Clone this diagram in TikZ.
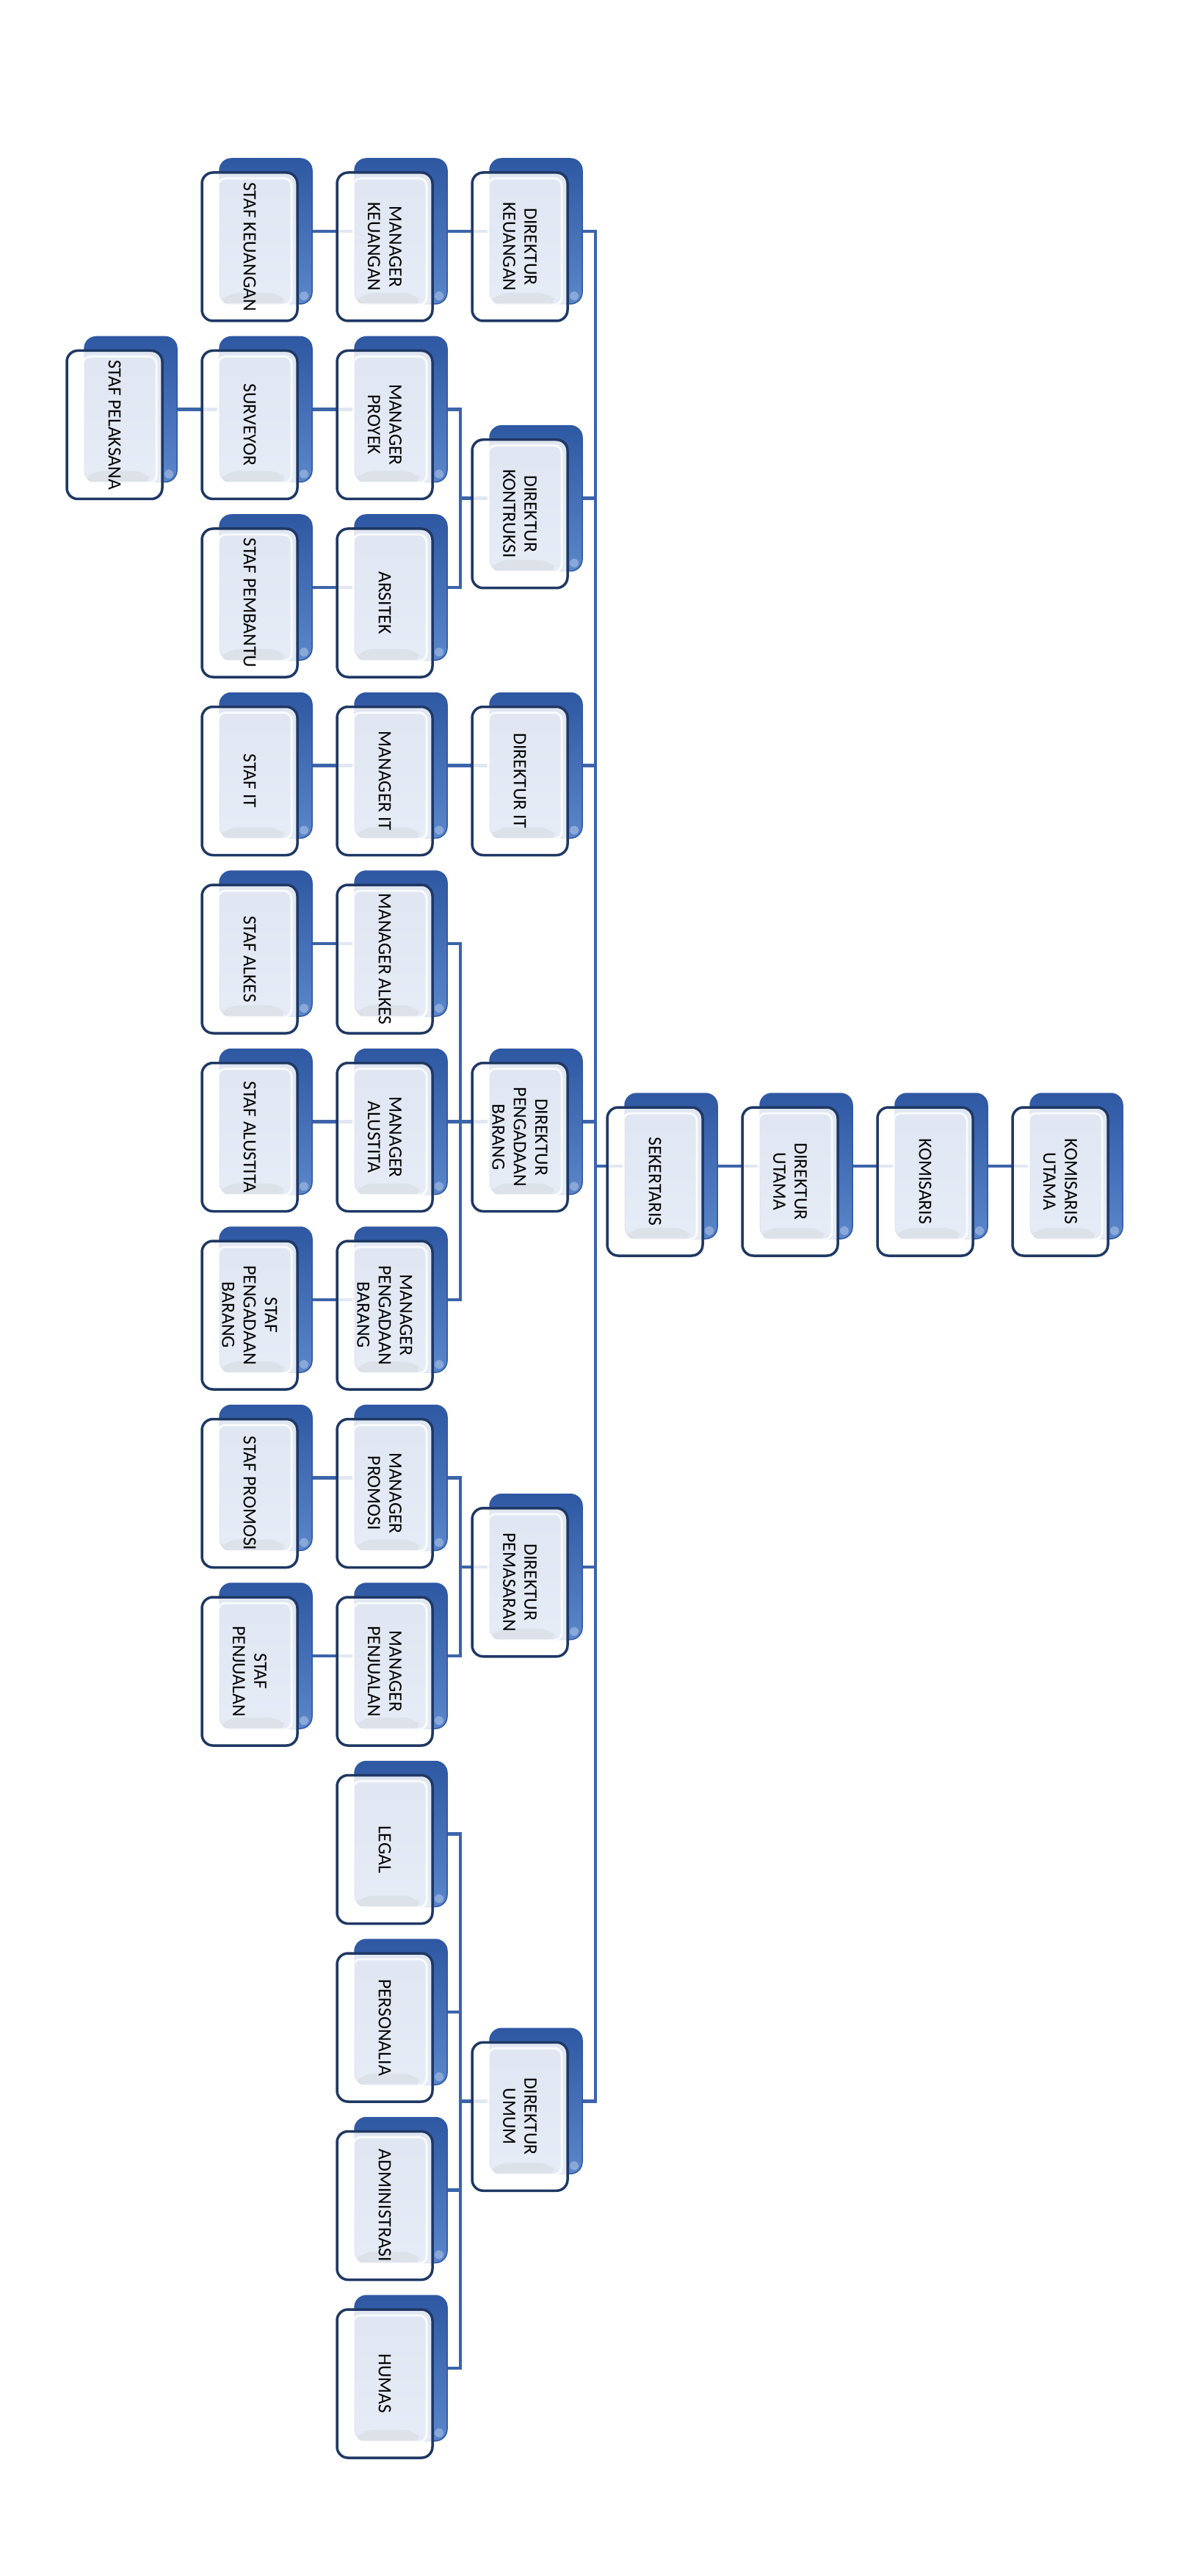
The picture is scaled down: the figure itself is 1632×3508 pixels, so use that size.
\documentclass[tikz,border=0pt]{standalone}
\usepackage{fontspec}
\setmainfont{Carlito}
\usetikzlibrary{backgrounds}

\definecolor{garisbiru}{HTML}{3C64A9}
\definecolor{tepi}{HTML}{1F3864}
\definecolor{biruatas}{HTML}{2F58A3}
\definecolor{birubawah}{HTML}{5A86CB}

\begin{document}
\begin{tikzpicture}[x=0.1mm, y=-0.1mm,
  belakang/.style={rectangle, rounded corners=1.6mm, minimum width=12.6mm,
    minimum height=19.8mm, inner sep=0pt, draw=biruatas, line width=0.15mm,
    top color=biruatas, bottom color=birubawah,
    path picture={\fill[white, opacity=.3]
      ([shift={(-1.1mm,1.1mm)}]path picture bounding box.south east) circle (0.6mm);}},
  depan/.style={rectangle, rounded corners=1.5mm, minimum width=13mm,
    minimum height=20.2mm, inner sep=0pt, draw=tepi, line width=0.35mm,
    fill=white, fill opacity=0.85,
    path picture={
      \fill[black!25, opacity=.22]
        ([shift={(2.2mm,2.2mm)}]path picture bounding box.south west)
        -- ([shift={(-1.2mm,2.2mm)}]path picture bounding box.south east)
        -- ([shift={(-2.4mm,3.8mm)}]path picture bounding box.south east)
        -- ([shift={(3.4mm,3.8mm)}]path picture bounding box.south west) -- cycle;
      \draw[white, line width=0.3mm, opacity=.8, rounded corners=1mm]
        ([shift={(2.2mm,2.2mm)}]path picture bounding box.south west)
        rectangle ([shift={(-0.8mm,-0.8mm)}]path picture bounding box.north east);}},
  teks/.style={rotate=-90, align=center, inner sep=0pt,
    font=\fontsize{7.3}{8.3}\selectfont},
  garis/.style={draw=garisbiru, line width=0.45mm}]
  \useasboundingbox (0,0) rectangle (1632,3508);
  % batang induk dan cabang direktur
  \coordinate (batang) at (811,0);
  \coordinate (cabang) at (627,0);
  % kotak jabatan: belakang biru, depan kaca, teks tegak
  \foreach \kode/\kx/\ky/\isi in {
      stafkeu/362/315/{STAF KEUANGAN},
      mgrkeu/546/315/{MANAGER\\KEUANGAN},
      dirkeu/730/315/{DIREKTUR\\KEUANGAN},
      stafpel/178/557.5/{STAF PELAKSANA},
      surveyor/362/557.5/{SURVEYOR},
      mgrproyek/546/557.5/{MANAGER\\PROYEK},
      dirkon/730/678.75/{DIREKTUR\\KONTRUKSI},
      stafpemb/362/800/{STAF PEMBANTU},
      arsitek/546/800/{ARSITEK},
      stafit/362/1042.5/{STAF IT},
      mgrit/546/1042.5/{MANAGER IT},
      dirit/730/1042.5/{DIREKTUR IT},
      stafalkes/362/1285/{STAF ALKES},
      mgralkes/546/1285/{MANAGER ALKES},
      stafalus/362/1527.5/{STAF ALUSTITA},
      mgralus/546/1527.5/{MANAGER\\ALUSTITA},
      dirpb/730/1527.5/{DIREKTUR\\PENGADAAN\\BARANG},
      stafpb/362/1770/{STAF\\PENGADAAN\\BARANG},
      mgrpb/546/1770/{MANAGER\\PENGADAAN\\BARANG},
      stafpromo/362/2012.5/{STAF PROMOSI},
      mgrpromo/546/2012.5/{MANAGER\\PROMOSI},
      dirpem/730/2133.75/{DIREKTUR\\PEMASARAN},
      stafjual/362/2255/{STAF\\PENJUALAN},
      mgrjual/546/2255/{MANAGER\\PENJUALAN},
      legal/546/2497.5/{LEGAL},
      personalia/546/2740/{PERSONALIA},
      dirumum/730/2861.25/{DIREKTUR\\UMUM},
      admin/546/2982.5/{ADMINISTRASI},
      humas/546/3225/{HUMAS},
      sekertaris/914/1588/{SEKERTARIS},
      dirut/1098/1588/{DIREKTUR\\UTAMA},
      komisaris/1282/1588/{KOMISARIS},
      komut/1466/1588/{KOMISARIS\\UTAMA}} {
    \node[belakang] (\kode) at (\kx,\ky) {};
    \node[depan] (\kode-d) at ([shift={(-22,21)}]\kode.center) {};
    \node[teks] (\kode-t) at (\kode-d.center) {\isi};
  }
  \begin{scope}[on background layer]
    % garis induk direksi
    \draw[garis] (dirkeu.center) -- (dirkeu.center -| batang)
      -- (dirumum.center -| batang) -- (dirumum.center);
    \foreach \d in {dirkon, dirit, dirpb, dirpem, sekertaris}
      \draw[garis] (\d.center) -- (\d.center -| batang);
    % garis lurus satu baris
    \draw[garis] (stafkeu.center) -- (dirkeu.center);
    \draw[garis] (stafpel.center) -- (mgrproyek.center);
    \draw[garis] (stafpemb.center) -- (arsitek.center);
    \draw[garis] (stafit.center) -- (dirit.center);
    \draw[garis] (stafalkes.center) -- (mgralkes.center);
    \draw[garis] (stafalus.center) -- (dirpb.center);
    \draw[garis] (stafpb.center) -- (mgrpb.center);
    \draw[garis] (stafpromo.center) -- (mgrpromo.center);
    \draw[garis] (stafjual.center) -- (mgrjual.center);
    \draw[garis] (sekertaris.center) -- (komut.center);
    % cabang ke manager
    \draw[garis] (mgrproyek.center) -- (mgrproyek.center -| cabang)
      -- (arsitek.center -| cabang) -- (arsitek.center);
    \draw[garis] (dirkon.center) -- (dirkon.center -| cabang);
    \draw[garis] (mgralkes.center) -- (mgralkes.center -| cabang)
      -- (mgrpb.center -| cabang) -- (mgrpb.center);
    \draw[garis] (mgrpromo.center) -- (mgrpromo.center -| cabang)
      -- (mgrjual.center -| cabang) -- (mgrjual.center);
    \draw[garis] (dirpem.center) -- (dirpem.center -| cabang);
    \draw[garis] (legal.center) -- (legal.center -| cabang)
      -- (humas.center -| cabang) -- (humas.center);
    \foreach \d in {personalia, admin, dirumum}
      \draw[garis] (\d.center) -- (\d.center -| cabang);
  \end{scope}
\end{tikzpicture}
\end{document}
